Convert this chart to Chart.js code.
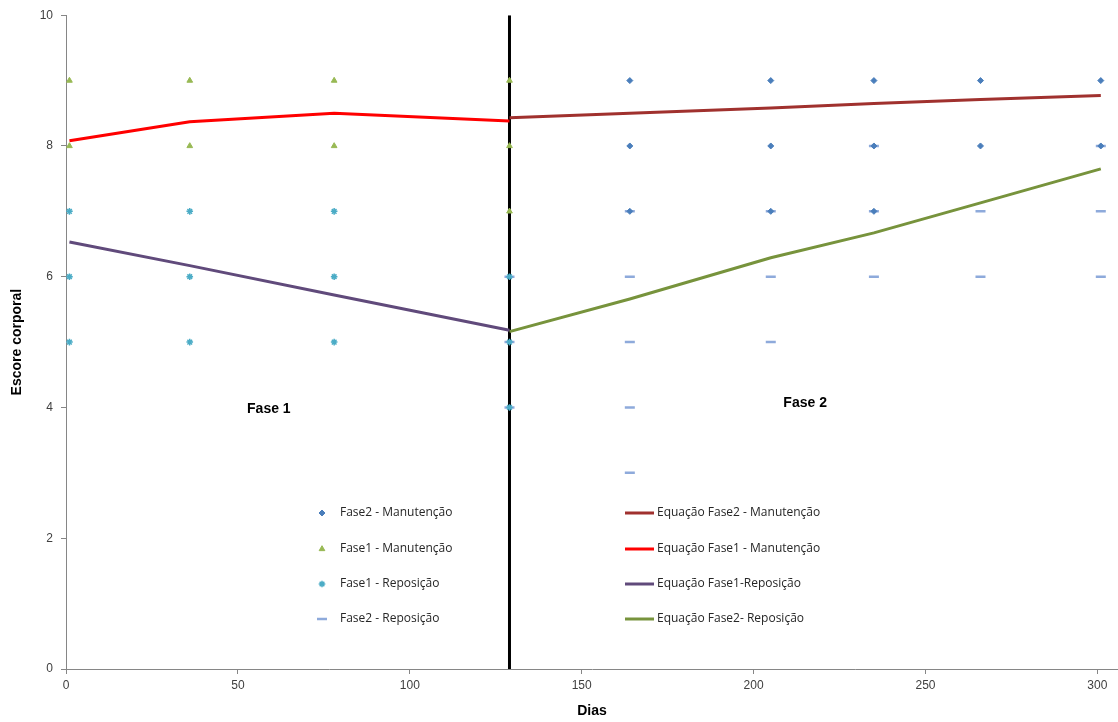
<!DOCTYPE html>
<html>
<head>
<meta charset="utf-8">
<script src="https://cdn.jsdelivr.net/npm/chart.js@4.4.1/dist/chart.umd.min.js"></script>
<style>
  html, body { margin: 0; padding: 0; background: #fff; }
  #wrap { width: 1118px; height: 722px; position: relative; }
</style>
</head>
<body>
<div id="wrap"><canvas id="Escore_Chart"></canvas></div>
<script>
// dados (dias, escore)
const f2ManutDias = [164, 164, 164, 205, 205, 205, 235, 235, 235, 266, 266, 301, 301];
const f2ManutEsc  = [9, 8, 7, 9, 8, 7, 9, 8, 7, 9, 8, 9, 8];

const f1ManutDias = [1, 1, 36, 36, 78, 78, 129, 129, 129];
const f1ManutEsc  = [9, 8, 9, 8, 9, 8, 9, 8, 7];

const f1ReposDias = [1, 1, 1, 36, 36, 36, 78, 78, 78, 129, 129, 129];
const f1ReposEsc  = [7, 6, 5, 7, 6, 5, 7, 6, 5, 6, 5, 4];

const f2ReposDias = [129, 129, 129, 164, 164, 164, 164, 164, 205, 205, 205, 235, 235, 235, 266, 266, 301, 301, 301];
const f2ReposEsc  = [6, 5, 4, 7, 6, 5, 4, 3, 7, 6, 5, 8, 7, 6, 7, 6, 8, 7, 6];

// curvas das equações
const eqF2ManutDias = [129, 164, 205, 235, 266, 301];
const eqF2ManutEsc  = [8.43, 8.50, 8.58, 8.65, 8.71, 8.77];
const eqF1ManutDias = [1, 36, 78, 129];
const eqF1ManutEsc  = [8.08, 8.37, 8.50, 8.38];
const eqF1ReposDias = [1, 36, 78, 129];
const eqF1ReposEsc  = [6.53, 6.17, 5.72, 5.18];
const eqF2ReposDias = [129, 164, 205, 235, 266, 301];
const eqF2ReposEsc  = [5.16, 5.66, 6.29, 6.67, 7.13, 7.65];

// linha divisória entre as fases
const divisaoDias = [129, 129];
const divisaoEsc  = [0, 10];

const xTicks = [0, 50, 100, 150, 200, 250, 300];
const yTicks = [0, 2, 4, 6, 8, 10];

function pares(xs, ys) {
    return xs.map((x, i) => ({ x: x, y: ys[i] }));
}

// legenda em duas colunas dentro da área do gráfico
const legendaPlugin = {
    id: 'legendaDupla',
    afterDatasetsDraw(chart) {
        const ctx = chart.ctx;
        const area = chart.chartArea;
        const ds = chart.data.datasets;
        const rows = [513, 549, 584, 619];
        ctx.save();
        ctx.font = '12px "Open Sans", sans-serif';
        ctx.textBaseline = 'middle';
        ctx.textAlign = 'left';
        // coluna 1: marcadores
        for (let i = 0; i < 4; i++) {
            const d = ds[i];
            const y = rows[i];
            ctx.fillStyle = d.backgroundColor;
            ctx.strokeStyle = d.borderColor;
            ctx.lineWidth = d.borderWidth;
            Chart.helpers.drawPoint(ctx, {
                pointStyle: d.pointStyle,
                radius: d.pointRadius,
                borderWidth: d.borderWidth,
                rotation: 0
            }, area.left + 256, y);
            ctx.fillStyle = '#262626';
            ctx.fillText(d.label, area.left + 274, y);
        }
        // coluna 2: linhas
        for (let i = 4; i < 8; i++) {
            const d = ds[i];
            const y = rows[i - 4];
            ctx.strokeStyle = d.borderColor;
            ctx.lineWidth = 3;
            ctx.beginPath();
            ctx.moveTo(area.left + 559, y);
            ctx.lineTo(area.left + 588, y);
            ctx.stroke();
            ctx.fillStyle = '#262626';
            ctx.fillText(d.label, area.left + 591, y);
        }
        // rótulos das fases
        ctx.font = 'bold 14px "Liberation Sans", Arial, sans-serif';
        ctx.fillStyle = '#000';
        ctx.textAlign = 'center';
        const xs = chart.scales.x, ys = chart.scales.y;
        ctx.fillText('Fase 1', xs.getPixelForValue(59), ys.getPixelForValue(3.98));
        ctx.fillText('Fase 2', xs.getPixelForValue(215), ys.getPixelForValue(4.06));
        ctx.restore();
    }
};

const ctx = document.getElementById('Escore_Chart').getContext('2d');
const EscoreChartInstance = new Chart(ctx, {
    type: 'scatter',
    data: {
        datasets: [
            {
                label: 'Fase2 - Manutenção',
                data: pares(f2ManutDias, f2ManutEsc),
                pointStyle: 'rectRot',
                pointRadius: 3,
                backgroundColor: '#4a7ebb',
                borderColor: '#4a7ebb',
                borderWidth: 1,
                showLine: false
            },
            {
                label: 'Fase1 - Manutenção',
                data: pares(f1ManutDias, f1ManutEsc),
                pointStyle: 'triangle',
                pointRadius: 3.3,
                backgroundColor: '#98b954',
                borderColor: '#98b954',
                borderWidth: 1,
                showLine: false
            },
            {
                label: 'Fase1 - Reposição',
                data: pares(f1ReposDias, f1ReposEsc),
                pointStyle: 'star',
                pointRadius: 3.3,
                backgroundColor: '#4bacc6',
                borderColor: '#4bacc6',
                borderWidth: 1.5,
                showLine: false
            },
            {
                label: 'Fase2 - Reposição',
                data: pares(f2ReposDias, f2ReposEsc),
                pointStyle: 'line',
                pointRadius: 5,
                backgroundColor: '#8eaadb',
                borderColor: '#8eaadb',
                borderWidth: 2.5,
                showLine: false
            },
            {
                label: 'Equação Fase2 - Manutenção',
                data: pares(eqF2ManutDias, eqF2ManutEsc),
                showLine: true,
                borderColor: '#a0312e',
                backgroundColor: '#a0312e',
                borderWidth: 3,
                pointRadius: 0,
                tension: 0
            },
            {
                label: 'Equação Fase1 - Manutenção',
                data: pares(eqF1ManutDias, eqF1ManutEsc),
                showLine: true,
                borderColor: '#ff0000',
                backgroundColor: '#ff0000',
                borderWidth: 3,
                pointRadius: 0,
                tension: 0
            },
            {
                label: 'Equação Fase1-Reposição',
                data: pares(eqF1ReposDias, eqF1ReposEsc),
                showLine: true,
                borderColor: '#604a7b',
                backgroundColor: '#604a7b',
                borderWidth: 3,
                pointRadius: 0,
                tension: 0
            },
            {
                label: 'Equação Fase2- Reposição',
                data: pares(eqF2ReposDias, eqF2ReposEsc),
                showLine: true,
                borderColor: '#77933c',
                backgroundColor: '#77933c',
                borderWidth: 3,
                pointRadius: 0,
                tension: 0
            },
            {
                label: 'divisao',
                data: pares(divisaoDias, divisaoEsc),
                showLine: true,
                borderColor: '#000000',
                borderWidth: 3,
                pointRadius: 0,
                order: 10
            }
        ]
    },
    options: {
        animation: false,
        responsive: true,
        maintainAspectRatio: false,
        layout: {
            autoPadding: false,
            padding: { top: 14, right: 0, left: 0, bottom: 0 }
        },
        plugins: {
            legend: { display: false },
            tooltip: { enabled: false }
        },
        scales: {
            x: {
                type: 'linear',
                min: 0,
                max: 306,
                afterBuildTicks: (scale) => {
                    scale.ticks = xTicks.map(v => ({ value: v }));
                },
                afterFit: (scale) => {
                    scale.height = 53;
                    scale.paddingRight = 0;
                },
                border: { display: true, color: '#868686', width: 1 },
                grid: { drawOnChartArea: false, drawTicks: true, tickLength: 5, color: '#868686' },
                ticks: {
                    color: '#404040',
                    padding: 4,
                    font: { size: 12, family: '"Liberation Sans Narrow", "Liberation Sans", Arial' }
                },
                title: {
                    display: true,
                    text: 'Dias',
                    color: '#000',
                    font: { size: 14, weight: 'bold', family: '"Liberation Sans Narrow", "Liberation Sans", Arial' },
                    padding: { top: 0, bottom: 2 }
                }
            },
            y: {
                min: 0,
                max: 10,
                afterBuildTicks: (scale) => {
                    scale.ticks = yTicks.map(v => ({ value: v }));
                },
                afterFit: (scale) => { scale.width = 66; },
                border: { display: true, color: '#868686', width: 1 },
                grid: { drawOnChartArea: false, drawTicks: true, tickLength: 5, color: '#868686' },
                ticks: {
                    color: '#404040',
                    padding: 8,
                    font: { size: 12, family: '"Liberation Sans", Arial' }
                },
                title: {
                    display: true,
                    text: 'Escore corporal',
                    color: '#000',
                    font: { size: 14, weight: 'bold', family: '"Liberation Sans", Arial' },
                    padding: { top: 9, bottom: 0 }
                }
            }
        }
    },
    plugins: [legendaPlugin]
});
</script>
</body>
</html>
